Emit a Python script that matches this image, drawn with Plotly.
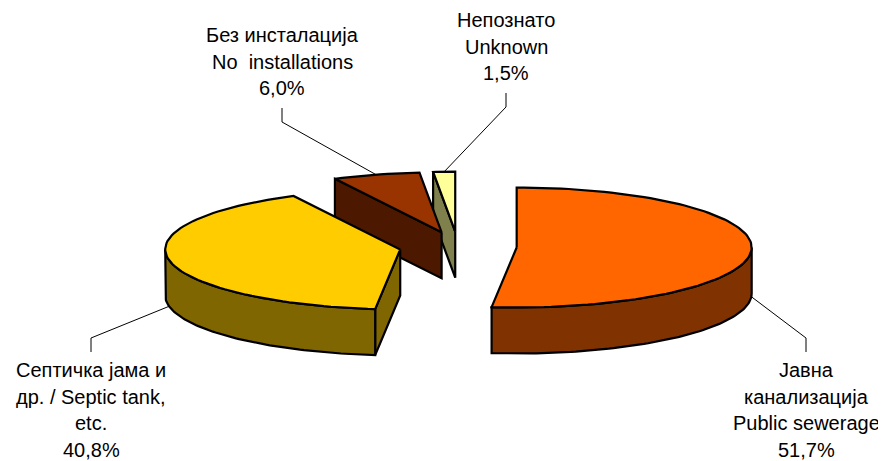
import numpy as np
import plotly.graph_objects as go

# ---------------- data ----------------
categories = ["Public sewerage", "Septic tank, etc.", "No installations", "Unknown"]
values = [51.7, 40.8, 6.0, 1.5]
label_lines = [
    ["Јавна", "канализација", "Public sewerage"],
    ["Септичка јама и", "др. / Septic tank,", "etc."],
    ["Без инсталација", "No  installations"],
    ["Непознато", "Unknown"],
]
top_colors = ["#FF6600", "#FFCC00", "#993300", "#FFFF99"]
side_colors = ["#803300", "#806600", "#4C1900", "#80804C"]

# ---------------- layout constants ----------------
W, H = 886, 461
PAD = 8                     # default page body margin of the html page
CX, CY = 458.0, 246.7      # pie centre (screen px)
RX, RY = 235.0, 60.0       # ellipse radii
DEPTH = 46.0               # thickness of the pie
EXPLODE = 0.25             # explosion as fraction of radius
FS = 20
FONT = "Liberation Sans, Arial, sans-serif"
LINE_H = 26.5
# label block placement: (centre x, first baseline y, side)
label_place = [(806, 377, "bottom"), (91, 377, "bottom"), (282, 42, "top"), (506, 27, "top")]

total = float(sum(values))
fracs = [v / total for v in values]
starts = np.cumsum([0.0] + fracs[:-1]) * 2 * np.pi
ends = starts + np.array(fracs) * 2 * np.pi


def rim(apex, th, dz=0.0):
    th = np.asarray(th)
    return apex[0] + RX * np.sin(th), apex[1] - RY * np.cos(th) + dz


fig = go.Figure()


def poly(xs, ys, fill):
    fig.add_trace(go.Scatter(
        x=list(xs) + [xs[0]], y=list(ys) + [ys[0]], mode="lines",
        fill="toself", fillcolor=fill,
        line=dict(color="black", width=2.2), hoverinfo="skip", showlegend=False))


apexes = []
for i in range(len(values)):
    mid = (starts[i] + ends[i]) / 2
    apexes.append((CX + EXPLODE * RX * np.sin(mid), CY - EXPLODE * RY * np.cos(mid)))

order = sorted(range(len(values)), key=lambda k: apexes[k][1])
for i in order:
    a, b = starts[i], ends[i]
    ap = apexes[i]
    if np.sin(a) < -1e-6:
        rx0, ry0 = rim(ap, a)
        poly([ap[0], rx0, rx0, ap[0]], [ap[1], ry0, ry0 + DEPTH, ap[1] + DEPTH], side_colors[i])
    if np.sin(b) > 1e-6:
        rx0, ry0 = rim(ap, b)
        poly([ap[0], rx0, rx0, ap[0]], [ap[1], ry0, ry0 + DEPTH, ap[1] + DEPTH], side_colors[i])
    lo, hi = max(a, np.pi / 2), min(b, 3 * np.pi / 2)
    if hi > lo:
        th = np.linspace(lo, hi, 80)
        tx, ty = rim(ap, th)
        bx, by = rim(ap, th[::-1], DEPTH)
        poly(np.concatenate([tx, bx]), np.concatenate([ty, by]), side_colors[i])
    th = np.linspace(a, b, max(8, int(200 * fracs[i])))
    tx, ty = rim(ap, th)
    poly(np.concatenate([[ap[0]], tx]), np.concatenate([[ap[1]], ty]), top_colors[i])

# ---------------- labels & leader lines ----------------
annotations = []
for i in range(len(values)):
    lines = label_lines[i] + [f"{values[i]:.1f}".replace(".", ",") + "%"]
    lx, by0, side = label_place[i]
    for j, txt in enumerate(lines):
        base = by0 + j * LINE_H
        annotations.append(dict(
            x=lx, y=base - 0.35 * FS, xref="x", yref="y", text=txt, showarrow=False,
            xanchor="center", yanchor="middle",
            font=dict(family=FONT, size=FS, color="black")))
    mid = (starts[i] + ends[i]) / 2
    if side == "top":
        ax_, ay_ = rim(apexes[i], mid)
        last_base = by0 + (len(lines) - 1) * LINE_H
        y_end = last_base + 13
        y_elb = y_end + 14
    else:
        ax_, ay_ = rim(apexes[i], mid, DEPTH)
        y_end = by0 - 25
        y_elb = y_end - 14
    fig.add_trace(go.Scatter(
        x=[float(ax_), lx, lx], y=[float(ay_), y_elb, y_end], mode="lines",
        line=dict(color="black", width=1), hoverinfo="skip", showlegend=False))

fig.update_layout(
    width=W - PAD, height=H - PAD, margin=dict(l=0, r=0, t=0, b=0, pad=0),
    paper_bgcolor="white", plot_bgcolor="white",
    xaxis=dict(range=[PAD, W], visible=False, fixedrange=True),
    yaxis=dict(range=[H, PAD], visible=False, fixedrange=True),
    annotations=annotations, showlegend=False,
)
fig.write_html("out.html")
